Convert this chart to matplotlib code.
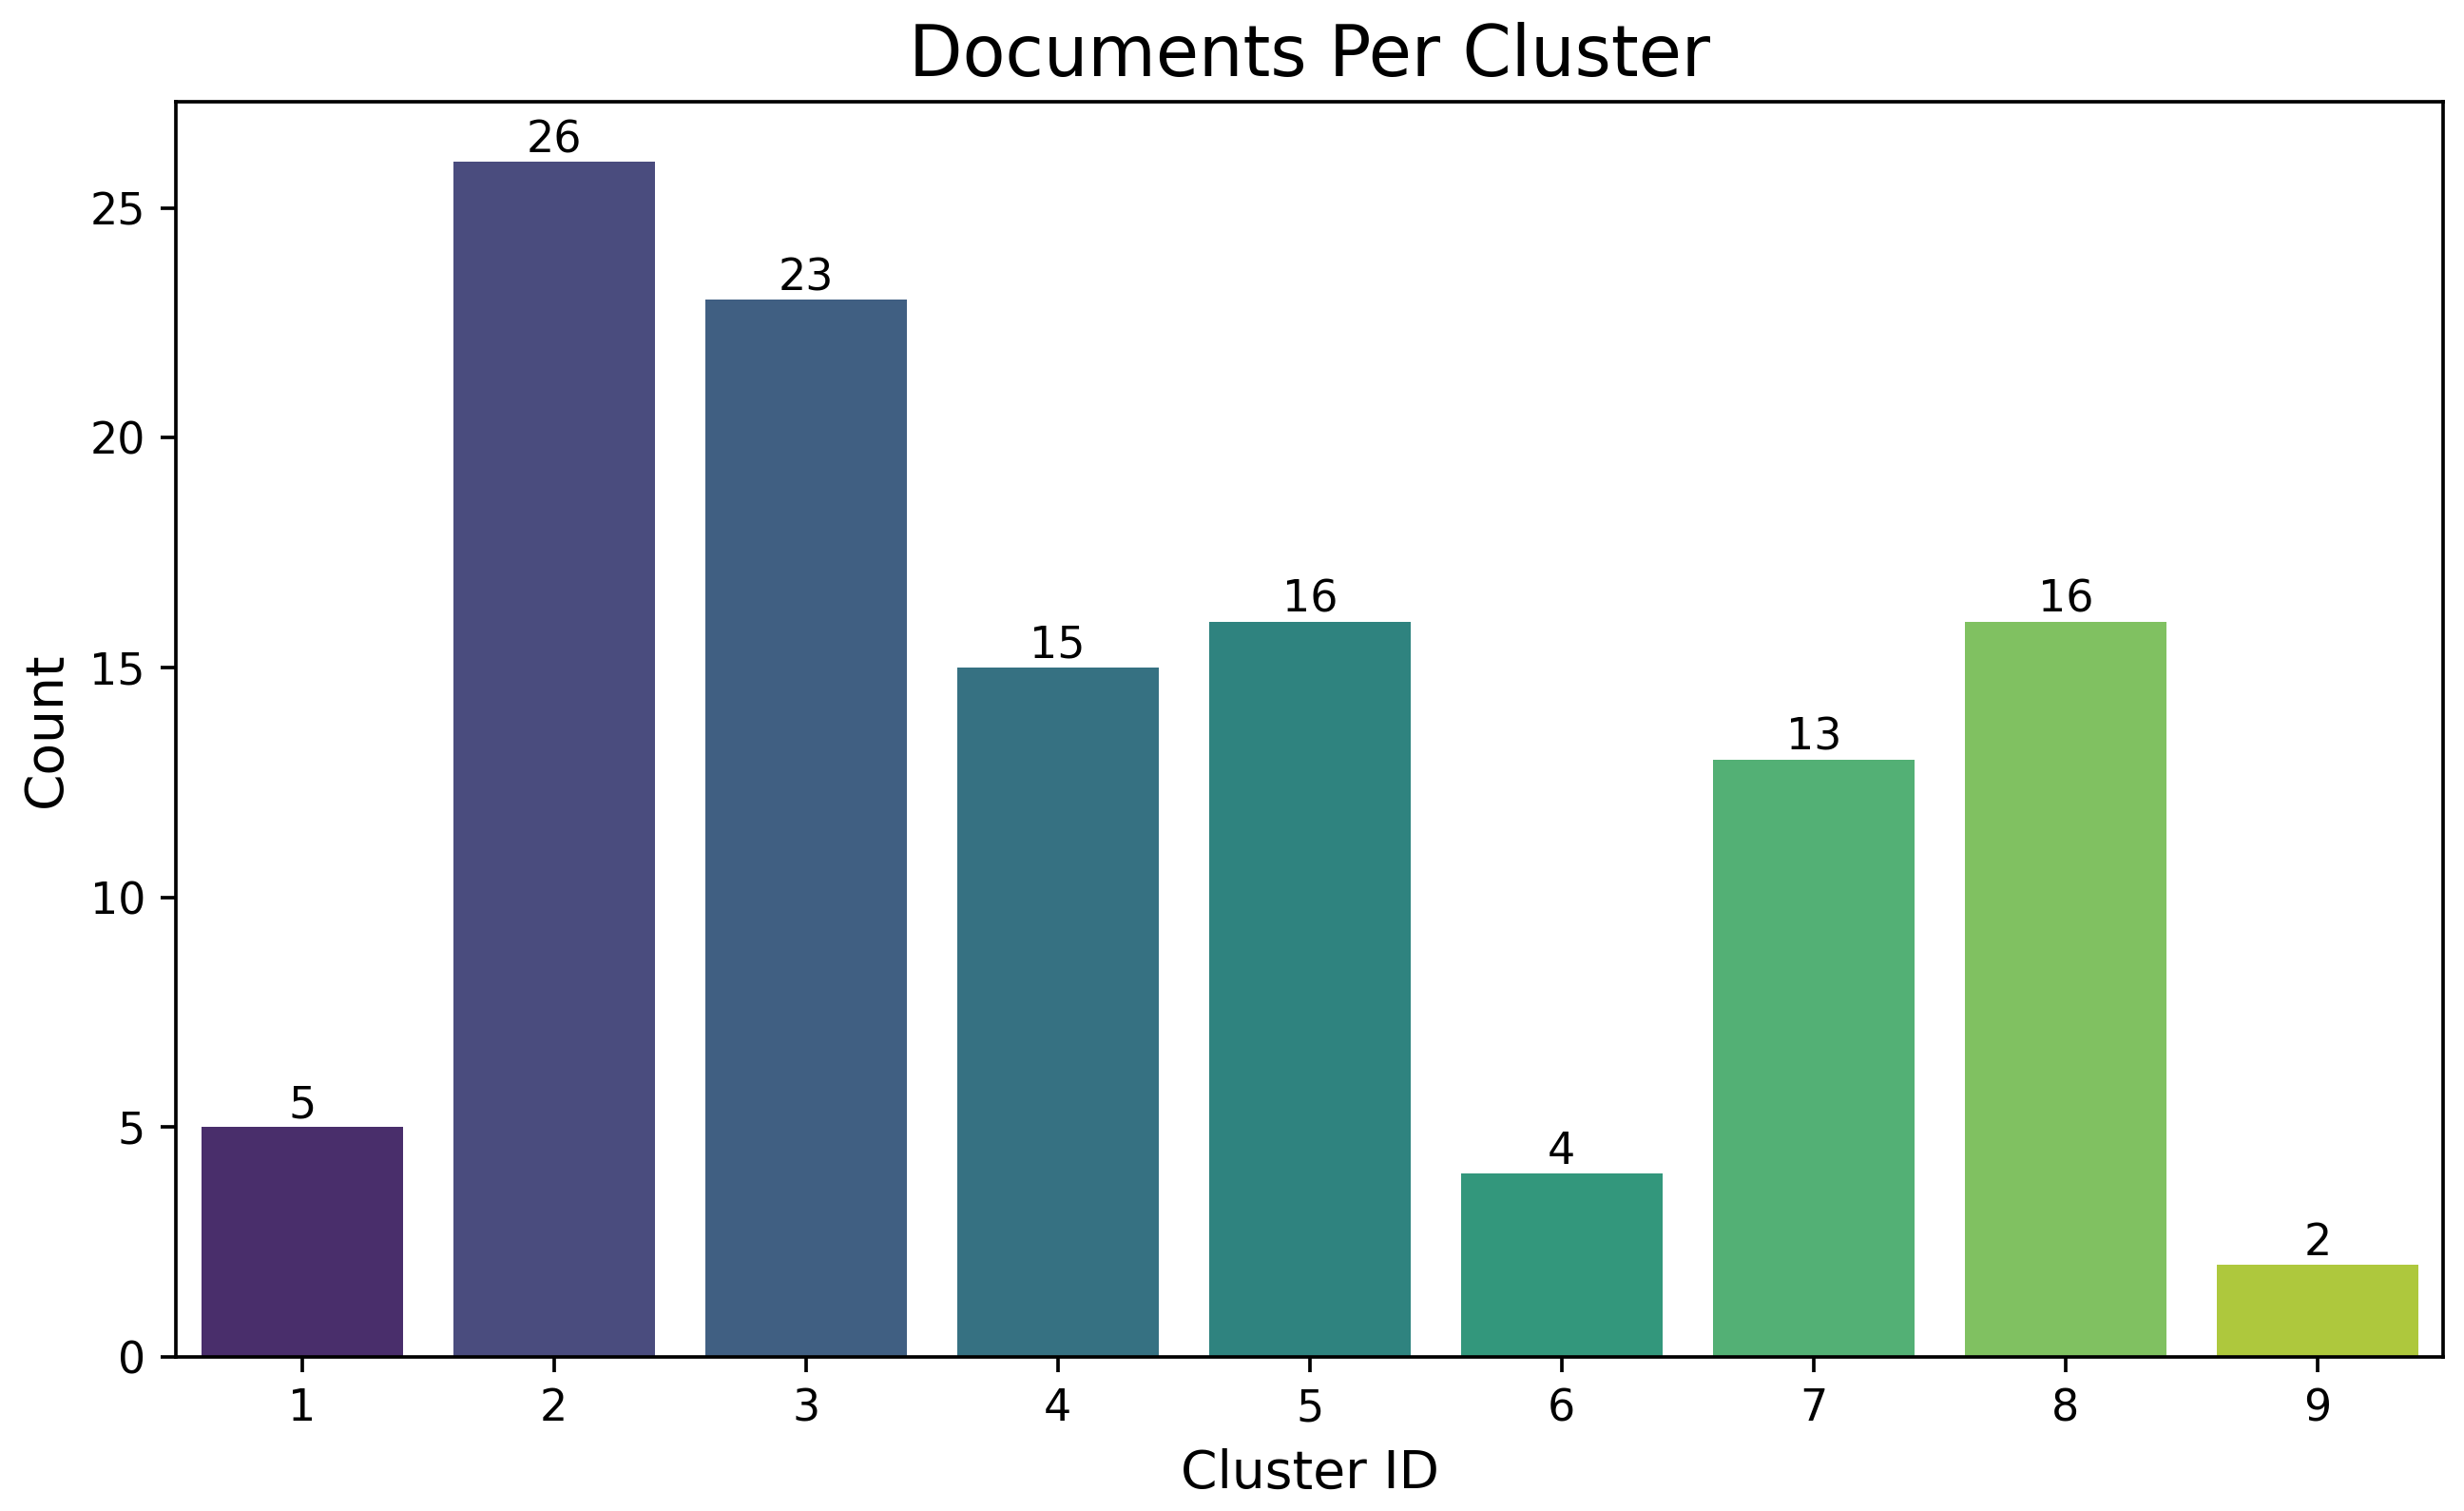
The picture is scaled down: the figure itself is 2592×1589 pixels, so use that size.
import numpy as np
import pandas as pd
import matplotlib
matplotlib.use('Agg')
import matplotlib.pyplot as plt
import seaborn as sns

cluster_ids = ['1', '2', '3', '4', '5', '6', '7', '8', '9']
counts = [5, 26, 23, 15, 16, 4, 13, 16, 2]

df = pd.DataFrame({'Cluster ID': cluster_ids, 'Count': counts})

DPI = 331
fig, ax = plt.subplots(figsize=(2592 / DPI, 1589 / DPI), dpi=DPI)
sns.barplot(data=df, x='Cluster ID', y='Count', hue='Cluster ID',
            palette='viridis', legend=False, ax=ax)
for cont in ax.containers:
    ax.bar_label(cont, fontsize=10)

ax.set_title('Documents Per Cluster', fontsize=16)
ax.set_xlabel('Cluster ID', fontsize=12)
ax.set_ylabel('Count', fontsize=12)
ax.tick_params(labelsize=10)
fig.subplots_adjust(left=0.0714, right=0.9917, top=0.9324, bottom=0.102)
fig.savefig('out.png', dpi=DPI)
